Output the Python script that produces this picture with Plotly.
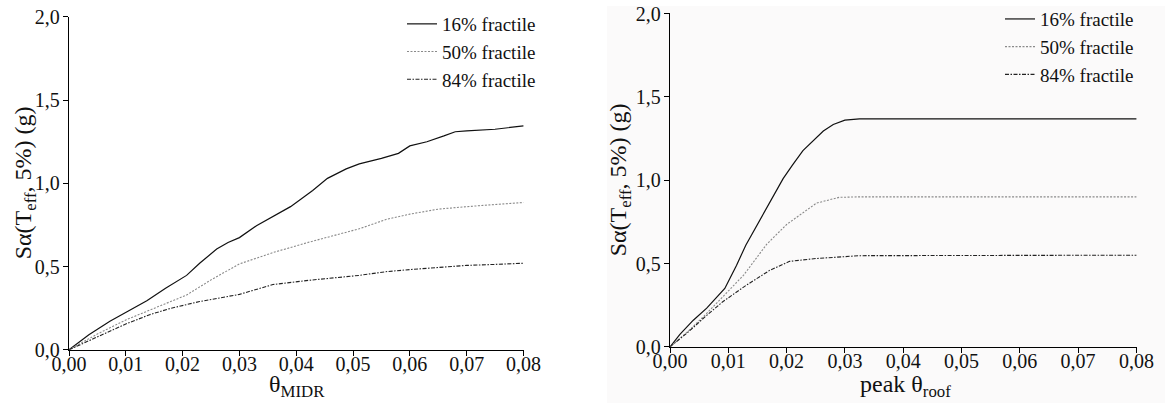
import plotly.graph_objects as go

# ---- data: left panel (theta_MIDR) ----
midr_x16 = [0, 0.0035, 0.0072, 0.0105, 0.0137, 0.017, 0.0207, 0.023, 0.026, 0.028, 0.030, 0.033, 0.0365, 0.039, 0.0429, 0.0455, 0.0488, 0.0511, 0.055, 0.058, 0.060, 0.063, 0.066, 0.068, 0.070, 0.075, 0.080]
midr_y16 = [0, 0.09, 0.171, 0.235, 0.294, 0.37, 0.447, 0.52, 0.605, 0.645, 0.674, 0.745, 0.81, 0.86, 0.957, 1.03, 1.087, 1.117, 1.15, 1.18, 1.225, 1.25, 1.285, 1.31, 1.315, 1.325, 1.345]
midr_x50 = [0, 0.005, 0.0101, 0.015, 0.0207, 0.025, 0.030, 0.036, 0.0424, 0.0511, 0.056, 0.060, 0.065, 0.070, 0.075, 0.080]
midr_y50 = [0, 0.095, 0.181, 0.25, 0.329, 0.42, 0.516, 0.585, 0.648, 0.727, 0.785, 0.815, 0.845, 0.86, 0.872, 0.885]
midr_x84 = [0, 0.005, 0.0100, 0.0142, 0.018, 0.023, 0.030, 0.0359, 0.0424, 0.0511, 0.056, 0.060, 0.065, 0.070, 0.075, 0.080]
midr_y84 = [0, 0.08, 0.155, 0.211, 0.25, 0.29, 0.333, 0.392, 0.418, 0.447, 0.47, 0.482, 0.495, 0.507, 0.513, 0.52]

# ---- data: right panel (peak theta_roof) ----
roof_x16 = [0, 0.0017, 0.004, 0.0063, 0.0094, 0.0114, 0.013, 0.0148, 0.017, 0.0194, 0.021, 0.0228, 0.0263, 0.028, 0.030, 0.0325, 0.080]
roof_y16 = [0, 0.075, 0.16, 0.232, 0.35, 0.488, 0.61, 0.724, 0.86, 1.009, 1.09, 1.177, 1.295, 1.334, 1.36, 1.368, 1.368]
roof_x50 = [0, 0.003, 0.006, 0.0094, 0.0126, 0.0166, 0.020, 0.0251, 0.029, 0.0325, 0.080]
roof_y50 = [0, 0.09, 0.19, 0.311, 0.429, 0.616, 0.734, 0.862, 0.897, 0.90, 0.90]
roof_x84 = [0, 0.003, 0.006, 0.0091, 0.0131, 0.0171, 0.0205, 0.025, 0.0325, 0.080]
roof_y84 = [0, 0.085, 0.18, 0.272, 0.37, 0.459, 0.513, 0.53, 0.547, 0.55]

series_names = ["16% fractile", "50% fractile", "84% fractile"]
x_tick_vals = [0, 0.01, 0.02, 0.03, 0.04, 0.05, 0.06, 0.07, 0.08]
x_tick_text = ["0,00", "0,01", "0,02", "0,03", "0,04", "0,05", "0,06", "0,07", "0,08"]
y_tick_vals = [0, 0.5, 1.0, 1.5, 2.0]
y_tick_text = ["0,0", "0,5", "1,0", "1,5", "2,0"]
y_title = "Sα(T<sub>eff</sub>, 5%) (g)"
x_title_left = "θ<sub>MIDR</sub>"
x_title_right = "peak θ<sub>roof</sub>"

FONT = "Liberation Serif, Times New Roman, DejaVu Serif, serif"
styles = [
    dict(color="#111111", width=1.2, dash="solid"),
    dict(color="#8a8a8a", width=1.1, dash="2px,1.5px"),
    dict(color="#222222", width=1.1, dash="4px,1.5px,1.5px,1.5px"),
]

fig = go.Figure()
left = [(midr_x16, midr_y16), (midr_x50, midr_y50), (midr_x84, midr_y84)]
right = [(roof_x16, roof_y16), (roof_x50, roof_y50), (roof_x84, roof_y84)]
for (xs, ys), name, st in zip(left, series_names, styles):
    fig.add_trace(go.Scatter(x=xs, y=ys, mode="lines", name=name, line=st,
                             xaxis="x", yaxis="y", legend="legend"))
for (xs, ys), name, st in zip(right, series_names, styles):
    fig.add_trace(go.Scatter(x=xs, y=ys, mode="lines", name=name, line=st,
                             xaxis="x2", yaxis="y2", legend="legend2"))

W, H = 1165, 403
axis_common = dict(showgrid=False, zeroline=False, showline=True, linecolor="black",
                   linewidth=1.3, ticks="outside", ticklen=5, tickwidth=1.3, tickcolor="black",
                   automargin=False,
                   tickfont=dict(family=FONT, size=20, color="#111"))
xaxis_extra = dict(ticklabelstandoff=-9)
yaxis_extra = dict(ticklabelstandoff=-1)

ttl_font = dict(family=FONT, size=24, color="#111")
annotations = [
    dict(text=x_title_left, xref="paper", yref="paper", x=296.5 / W, y=1 - 386 / H,
         xanchor="center", yanchor="middle", showarrow=False, font=ttl_font),
    dict(text=x_title_right, xref="paper", yref="paper", x=905 / W, y=1 - 386 / H,
         xanchor="center", yanchor="middle", showarrow=False, font=ttl_font),
    dict(text=y_title, xref="paper", yref="paper", x=25 / W, y=1 - 180 / H, textangle=-90,
         xanchor="center", yanchor="middle", showarrow=False, font=ttl_font),
    dict(text=y_title, xref="paper", yref="paper", x=620 / W, y=1 - 177 / H, textangle=-90,
         xanchor="center", yanchor="middle", showarrow=False, font=ttl_font),
]

fig.update_layout(
    width=W, height=H,
    margin=dict(l=0, r=0, t=0, b=0),
    paper_bgcolor="white", plot_bgcolor="rgba(0,0,0,0)",
    font=dict(family=FONT, color="#111"),
    xaxis=dict(domain=[69 / W, 524 / W], range=[0, 0.0801], anchor="y",
               tickvals=x_tick_vals, ticktext=x_tick_text, **axis_common, **xaxis_extra),
    yaxis=dict(domain=[(H - 349) / H, (H - 10.7) / H], range=[0, 2.002], anchor="x",
               tickvals=y_tick_vals, ticktext=y_tick_text, **axis_common, **yaxis_extra),
    xaxis2=dict(domain=[670 / W, 1137 / W], range=[0, 0.0801], anchor="y2",
                tickvals=x_tick_vals, ticktext=x_tick_text, **axis_common, **xaxis_extra),
    yaxis2=dict(domain=[(H - 346) / H, (H - 7.3) / H], range=[0, 2.002], anchor="x2",
                tickvals=y_tick_vals, ticktext=y_tick_text, **axis_common, **yaxis_extra),
    legend=dict(x=402 / W, y=1 + 1 / H, xanchor="left", yanchor="top",
                bgcolor="rgba(0,0,0,0)", font=dict(family=FONT, size=19, color="#111"),
                tracegroupgap=0, itemwidth=30),
    legend2=dict(x=1000 / W, y=1 + 6 / H, xanchor="left", yanchor="top",
                 bgcolor="rgba(0,0,0,0)", font=dict(family=FONT, size=19, color="#111"),
                 tracegroupgap=0, itemwidth=30),
    annotations=annotations,
    shapes=[dict(type="rect", xref="paper", yref="paper", x0=607 / W, x1=1, y0=0, y1=1,
                 fillcolor="#fbfafa", line=dict(width=0), layer="below")],
)

fig.write_html("out.html")
